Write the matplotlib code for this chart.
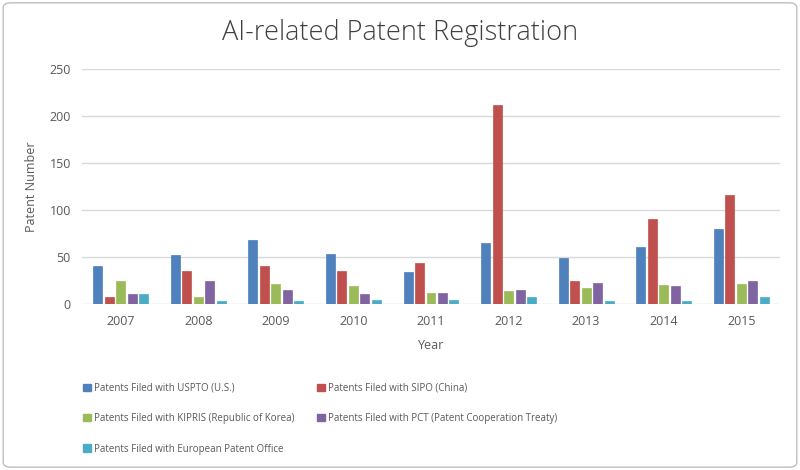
import numpy as np
import matplotlib.pyplot as plt
from matplotlib.patches import FancyBboxPatch, Patch

years = ["2007", "2008", "2009", "2010", "2011", "2012", "2013", "2014", "2015"]
uspto = [40, 52, 68, 53, 34, 65, 49, 61, 80]
sipo = [7, 35, 40, 35, 44, 211, 25, 90, 116]
kipris = [25, 8, 21, 19, 12, 14, 17, 20, 21]
pct = [11, 24, 15, 11, 12, 15, 22, 19, 24]
epo = [11, 3, 3, 4, 4, 7, 3, 3, 8]

labels = ["Patents Filed with USPTO (U.S.)",
          "Patents Filed with SIPO (China)",
          "Patents Filed with KIPRIS (Republic of Korea)",
          "Patents Filed with PCT (Patent Cooperation Treaty)",
          "Patents Filed with European Patent Office"]
colors = ["#4F81BD", "#C0504D", "#9BBB59", "#8064A2", "#4BACC6"]

plt.rcParams['font.family'] = ['Open Sans', 'DejaVu Sans']
txt = "#595959"

fig = plt.figure(figsize=(8, 4.7), dpi=100)
ax = fig.add_axes([0.1025, 0.353, 0.8725, 0.501])

x = np.arange(len(years))
step, w = 0.148, 0.116
series = [uspto, sipo, kipris, pct, epo]
for i, (vals, c) in enumerate(zip(series, colors)):
    ax.bar(x + (i - 2) * step, vals, w, color=c, edgecolor=c, linewidth=0.5, zorder=3)

ax.set_xlim(-0.5, len(years) - 0.5)
ax.set_ylim(0, 250)
ax.set_yticks(range(0, 251, 50))
ax.set_xticks(x)
ax.set_xticklabels(years)
ax.tick_params(colors=txt, labelsize=9, length=0, pad=8)
ax.grid(axis='y', color="#D9D9D9", linewidth=1, zorder=0)
for s in ax.spines.values():
    s.set_visible(False)
ax.set_xlabel("Year", color=txt, fontsize=9, labelpad=8)
ax.set_ylabel("Patent Number", color=txt, fontsize=9, labelpad=8)

fig.text(0.5, 0.93, "AI-related Patent Registration", ha='center', va='center',
         fontsize=19.5, color="#404040", fontweight='light')

handles = [Patch(color=c) for c in colors]
order = [0, 2, 4, 1, 3]
leg = fig.legend([handles[i] for i in order], [labels[i] for i in order],
                 ncol=2, loc='upper left', bbox_to_anchor=(0.1, 0.192),
                 frameon=False, fontsize=7, handlelength=0.8, handleheight=0.8,
                 handletextpad=0.35, labelspacing=2.0, columnspacing=2.3,
                 borderaxespad=0, borderpad=0.3)
for t in leg.get_texts():
    t.set_color(txt)

fig.patches.append(FancyBboxPatch((0.004, 0.006), 0.992, 0.988,
                                  boxstyle="round,pad=0,rounding_size=0.01",
                                  transform=fig.transFigure, fill=False,
                                  edgecolor="#BFBFBF", linewidth=1))

fig.savefig("out.png", dpi=100)
